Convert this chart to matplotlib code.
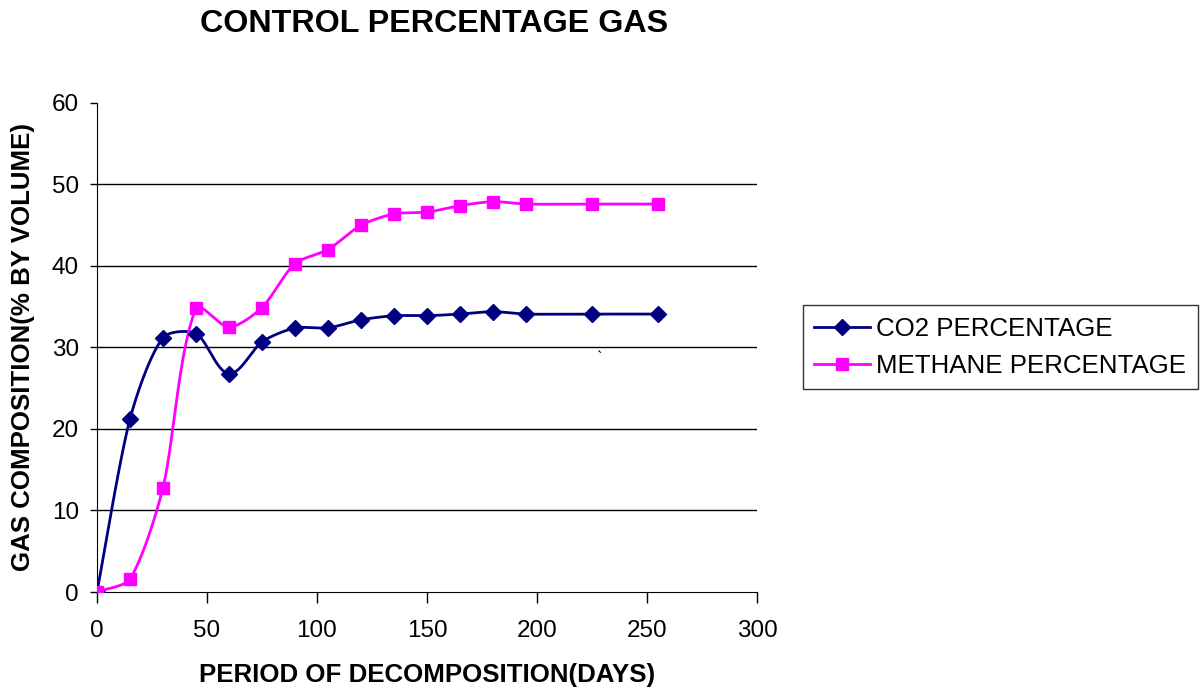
import matplotlib
matplotlib.use('Agg')
import matplotlib.pyplot as plt
from matplotlib.lines import Line2D
import numpy as np

plt.rcParams['font.family'] = ['Liberation Sans', 'DejaVu Sans']

days = [0, 15, 30, 45, 60, 75, 90, 105, 120, 135, 150, 165, 180, 195, 225, 255]
co2 = [0, 21.2, 31.2, 31.7, 26.8, 30.7, 32.4, 32.4, 33.4, 33.9, 33.9, 34.1, 34.4, 34.1, 34.1, 34.1]
methane = [0, 1.6, 12.8, 34.8, 32.5, 34.9, 40.3, 42.0, 45.0, 46.4, 46.6, 47.4, 47.9, 47.6, 47.6, 47.6]

x_ticks = [0, 50, 100, 150, 200, 250, 300]
y_ticks = [0, 10, 20, 30, 40, 50, 60]


def smooth(ax, xs, ys, n=40, k=0.25):
    # smoothed line drawn as cubic beziers in display space; tangent at each
    # point follows its neighbours, handle length scaled by segment length
    tr = ax.transData
    p = tr.transform(np.column_stack([xs, ys]).astype(float))
    out = [p[0]]
    for i in range(len(p) - 1):
        p0 = p[i - 1] if i > 0 else p[i]
        p1 = p[i]
        p2 = p[i + 1]
        p3 = p[i + 2] if i + 2 < len(p) else p[i + 1]
        seg_len = np.linalg.norm(p2 - p1)
        d1 = p2 - p0
        d2 = p3 - p1
        d1 = d1 / np.linalg.norm(d1)
        d2 = d2 / np.linalg.norm(d2)
        c1 = p1 + d1 * seg_len * k
        c2 = p2 - d2 * seg_len * k
        t = np.linspace(0, 1, n)[1:, None]
        seg = ((1 - t) ** 3) * p1 + 3 * ((1 - t) ** 2) * t * c1 + 3 * (1 - t) * t ** 2 * c2 + t ** 3 * p2
        out.extend(seg)
    out = tr.inverted().transform(np.array(out))
    return out[:, 0], out[:, 1]


fig = plt.figure(figsize=(12, 6.92), dpi=100)
ax = fig.add_axes([0.0808, 0.1445, 0.55, 0.7067])
ax.set_xlim(0, 300)
ax.set_ylim(0, 60)

navy = '#000080'
pink = '#FF00FF'

for y in y_ticks[1:-1]:
    ax.axhline(y, color='#000000', lw=1.0, zorder=1)

sx, sy = smooth(ax, days, co2)
ax.plot(sx, sy, color=navy, lw=2, zorder=3)
ax.plot(days, co2, ls='none', marker='D', ms=8.5, color=navy, zorder=4)

sx, sy = smooth(ax, days, methane)
ax.plot(sx, sy, color=pink, lw=2, zorder=3)
ax.plot(days, methane, ls='none', marker='s', ms=9, color=pink, zorder=4)

ax.set_xticks(x_ticks)
ax.set_yticks(y_ticks)
ax.tick_params(axis='x', direction='out', length=8, width=1, pad=12, labelsize=17.5)
ax.tick_params(axis='y', direction='out', length=5, width=1, pad=8, labelsize=17.5)
ax.spines['top'].set_visible(False)
ax.spines['right'].set_visible(False)
ax.spines['left'].set_color('#000000')
ax.spines['bottom'].set_color('#000000')

ax.text(228, 28.7, '`', fontsize=12, ha='center', va='center')

ax.set_xlabel('PERIOD OF DECOMPOSITION(DAYS)', fontsize=18.6, fontweight='bold', labelpad=15)
ax.set_ylabel('GAS COMPOSITION(% BY VOLUME)', fontsize=18.6, fontweight='bold', labelpad=12)
fig.text(0.3615, 0.966, 'CONTROL PERCENTAGE GAS', fontsize=23.2, fontweight='bold', ha='center', va='center')

handles = [
    Line2D([], [], color=navy, lw=2, marker='D', ms=8.5),
    Line2D([], [], color=pink, lw=2, marker='s', ms=9),
]
leg = fig.legend(handles, ['CO2 PERCENTAGE', 'METHANE PERCENTAGE'],
                 loc='upper left', bbox_to_anchor=(0.669, 1 - 305 / 692), fontsize=18.6,
                 frameon=True, fancybox=False, edgecolor='#000000',
                 handlelength=2.15, handletextpad=0.25, borderpad=0.45,
                 labelspacing=0.5, borderaxespad=0)
leg.get_frame().set_linewidth(1.0)

plt.savefig('out.png', dpi=100)
